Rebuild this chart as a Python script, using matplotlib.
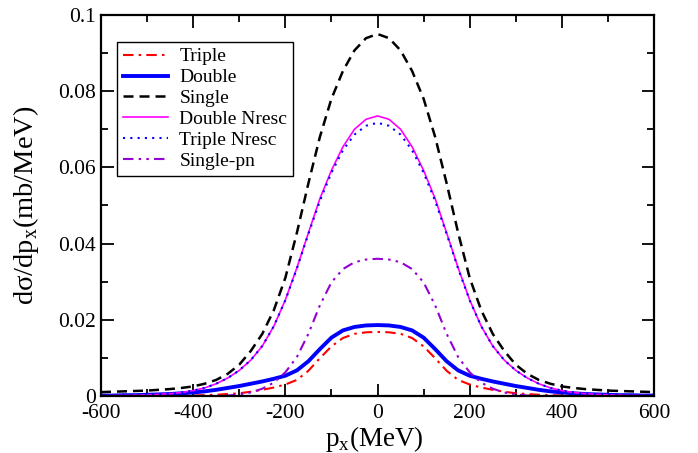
import matplotlib
matplotlib.use("Agg")
import matplotlib.pyplot as plt
from matplotlib.ticker import MultipleLocator, FormatStrFormatter

plt.rcParams['font.family'] = ['Liberation Serif', 'DejaVu Serif']
plt.rcParams['mathtext.fontset'] = 'custom'
plt.rcParams['mathtext.rm'] = 'Liberation Serif'
plt.rcParams['axes.unicode_minus'] = False

# p_x grid (MeV)
px = [-600, -575, -550, -525, -500, -475, -450, -425, -400, -375, -350, -325,
      -300, -275, -250, -225, -200, -175, -150, -125, -100, -75, -50, -25,
      0, 25, 50, 75, 100, 125, 150, 175, 200, 225, 250, 275, 300, 325, 350,
      375, 400, 425, 450, 475, 500, 525, 550, 575, 600]

triple = [0.0, 0.0, 0.0, 0.0, 0.0, 0.0, 0.0, 0.0, 0.0001, 0.0002, 0.0003, 0.0005,
          0.0007, 0.0011, 0.0016, 0.0022, 0.0030, 0.0042, 0.0066, 0.0099, 0.0130, 0.0152, 0.0163, 0.0167,
          0.0168, 0.0167, 0.0163, 0.0152, 0.0130, 0.0099, 0.0066, 0.0042, 0.0030, 0.0022, 0.0016, 0.0011,
          0.0007, 0.0005, 0.0003, 0.0002, 0.0001, 0.0, 0.0, 0.0, 0.0, 0.0, 0.0, 0.0, 0.0]

double = [0.0001, 0.0001, 0.0002, 0.0002, 0.0003, 0.0004, 0.0005, 0.0007, 0.0009, 0.0012, 0.0016, 0.0021,
          0.0026, 0.0032, 0.0038, 0.0045, 0.0053, 0.0067, 0.0091, 0.0123, 0.0153, 0.0172, 0.0181, 0.0185,
          0.0186, 0.0185, 0.0181, 0.0172, 0.0153, 0.0123, 0.0091, 0.0067, 0.0053, 0.0045, 0.0038, 0.0032,
          0.0026, 0.0021, 0.0016, 0.0012, 0.0009, 0.0007, 0.0005, 0.0004, 0.0003, 0.0002, 0.0002, 0.0001, 0.0001]

single = [0.0010, 0.0011, 0.0012, 0.0013, 0.0014, 0.0016, 0.0018, 0.0021, 0.0025, 0.0032, 0.0042, 0.0058,
          0.0082, 0.0118, 0.0163, 0.0225, 0.0310, 0.0428, 0.0558, 0.0680, 0.0780, 0.0853, 0.0907, 0.0939,
          0.0950, 0.0939, 0.0907, 0.0853, 0.0780, 0.0680, 0.0558, 0.0428, 0.0310, 0.0225, 0.0163, 0.0118,
          0.0082, 0.0058, 0.0042, 0.0032, 0.0025, 0.0021, 0.0018, 0.0016, 0.0014, 0.0013, 0.0012, 0.0011, 0.0010]

double_nresc = [0.0, 0.0001, 0.0001, 0.0002, 0.0003, 0.0004, 0.0006, 0.0009, 0.0014, 0.0021, 0.0032, 0.0047,
                0.0067, 0.0094, 0.0131, 0.0183, 0.0252, 0.0336, 0.0428, 0.0518, 0.0592, 0.0654, 0.0700, 0.0726,
                0.0735, 0.0726, 0.0700, 0.0654, 0.0592, 0.0518, 0.0428, 0.0336, 0.0252, 0.0183, 0.0131, 0.0094,
                0.0067, 0.0047, 0.0032, 0.0021, 0.0014, 0.0009, 0.0006, 0.0004, 0.0003, 0.0002, 0.0001, 0.0001, 0.0]

triple_nresc = [0.0, 0.0001, 0.0001, 0.0002, 0.0003, 0.0004, 0.0006, 0.0009, 0.0014, 0.0021, 0.0032, 0.0047,
                0.0067, 0.0094, 0.0131, 0.0183, 0.0251, 0.0334, 0.0425, 0.0512, 0.0586, 0.0645, 0.0686, 0.0709,
                0.0717, 0.0709, 0.0686, 0.0645, 0.0586, 0.0512, 0.0425, 0.0334, 0.0251, 0.0183, 0.0131, 0.0094,
                0.0067, 0.0047, 0.0032, 0.0021, 0.0014, 0.0009, 0.0006, 0.0004, 0.0003, 0.0002, 0.0001, 0.0001, 0.0]

single_pn = [0.0, 0.0, 0.0, 0.0, 0.0, 0.0, 0.0, 0.0, 0.0, 0.0, 0.0, 0.0001,
             0.0004, 0.0009, 0.0019, 0.0035, 0.0062, 0.0102, 0.0163, 0.0238, 0.0298, 0.0333, 0.0351, 0.0358,
             0.0360, 0.0358, 0.0351, 0.0333, 0.0298, 0.0238, 0.0163, 0.0102, 0.0062, 0.0035, 0.0019, 0.0009,
             0.0004, 0.0001, 0.0, 0.0, 0.0, 0.0, 0.0, 0.0, 0.0, 0.0, 0.0, 0.0, 0.0]

fig = plt.figure(figsize=(6.98, 4.53), dpi=100)
ax = fig.add_axes([0.1447, 0.126, 0.7923, 0.841])

kw = dict(solid_joinstyle='round', dash_joinstyle='round')
ax.plot(px, triple, color='red', lw=1.5, dashes=(5, 2.5, 1.2, 2.5), label='Triple', **kw)
ax.plot(px, double, color='blue', lw=2.8, label='Double', **kw)
ax.plot(px, single, color='black', lw=1.8, dashes=(4, 2.4), label='Single', **kw)
ax.plot(px, double_nresc, color='magenta', lw=1.2, label='Double Nresc', **kw)
ax.plot(px, triple_nresc, color='blue', lw=1.5, dashes=(1, 2.5), label='Triple Nresc', **kw)
ax.plot(px, single_pn, color='#9400d3', lw=1.5, dashes=(5, 2.5, 1.2, 2.5, 1.2, 2.5),
        label='Single-pn', **kw)

ax.set_xlim(-600, 600)
ax.set_ylim(0, 0.1)
ax.xaxis.set_major_locator(MultipleLocator(200))
ax.xaxis.set_minor_locator(MultipleLocator(100))
ax.yaxis.set_major_locator(MultipleLocator(0.02))
ax.yaxis.set_minor_locator(MultipleLocator(0.01))
ax.yaxis.set_major_formatter(FormatStrFormatter('%g'))
ax.tick_params(which='both', direction='in', top=True, right=True, labelsize=15.5, width=1.3)
ax.tick_params(which='major', length=9)
ax.tick_params(which='minor', length=5)
ax.tick_params(axis='x', pad=6)
for s in ax.spines.values():
    s.set_linewidth(1.6)

ax.set_xlabel('p$_{\\mathrm{x}}$(MeV)', fontsize=19.5)
ax.set_ylabel('dσ/dp$_{\\mathrm{x}}$(mb/MeV)', fontsize=20.5)
ax.xaxis.set_label_coords(0.495, -0.075)
ax.yaxis.set_label_coords(-0.108, 0.5)

leg = ax.legend(loc='upper left', bbox_to_anchor=(0.029, 0.929), fontsize=14,
                frameon=True, fancybox=False, edgecolor='black', framealpha=1,
                handlelength=2.3, labelspacing=0.17, borderpad=0.3, borderaxespad=0,
                handletextpad=0.6)
leg.get_frame().set_linewidth(1.0)

fig.savefig('out.png', dpi=100)
